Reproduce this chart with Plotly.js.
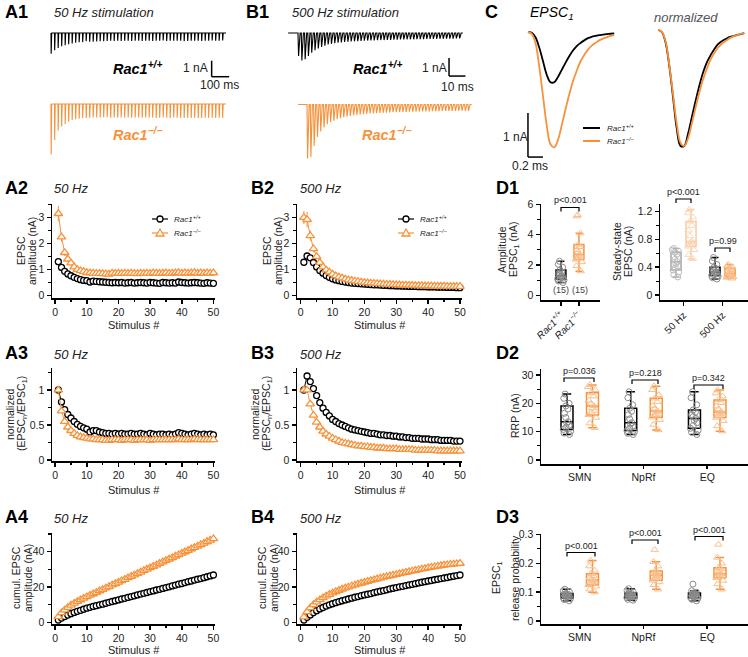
<!DOCTYPE html>
<html>
<head>
<meta charset="utf-8">
<script src="https://cdn.plot.ly/plotly-3.0.1.min.js"></script>
<style>
html,body{margin:0;padding:0;background:#ffffff;}
#chart{width:748px;height:657px;}
</style>
</head>
<body>
<div id="chart"></div>
<script>
// ================= DATA =================
const stimulus = [1,2,3,4,5,6,7,8,9,10,11,12,13,14,15,16,17,18,19,20,21,22,23,24,25,26,27,28,29,30,31,32,33,34,35,36,37,38,39,40,41,42,43,44,45,46,47,48,49,50];

// A2 (and A1 traces): 50 Hz EPSC amplitude (nA)
const amp50_wt = [1.30,1.08,0.93,0.83,0.76,0.70,0.65,0.61,0.58,0.57,
  0.52,0.55,0.54,0.53,0.52,0.51,0.50,0.49,0.50,0.49,
  0.50,0.48,0.49,0.50,0.48,0.49,0.50,0.49,0.48,0.50,
  0.49,0.48,0.47,0.50,0.49,0.48,0.49,0.48,0.52,0.50,
  0.49,0.48,0.49,0.50,0.49,0.48,0.47,0.49,0.48,0.47];
const amp50_ko = [3.15,2.25,1.65,1.40,1.25,1.10,1.00,0.95,0.92,0.88,
  0.87,0.86,0.85,0.85,0.84,0.83,0.82,0.86,0.85,0.86,
  0.85,0.86,0.85,0.86,0.85,0.84,0.86,0.85,0.86,0.85,
  0.87,0.86,0.85,0.86,0.87,0.85,0.86,0.87,0.88,0.86,
  0.87,0.86,0.87,0.88,0.86,0.87,0.86,0.87,0.86,0.87];
const amp50_ko_err = [0.30,0.18,0.13,0.11,0.10,0.09,0.08,0.08,0.07,0.07,
  0.07,0.07,0.07,0.07,0.07,0.07,0.07,0.07,0.07,0.07,
  0.07,0.07,0.07,0.07,0.07,0.07,0.07,0.07,0.07,0.07,
  0.07,0.07,0.07,0.07,0.07,0.07,0.07,0.07,0.07,0.07,
  0.07,0.07,0.07,0.07,0.07,0.07,0.07,0.07,0.07,0.07];

// B2 (and B1 traces): 500 Hz EPSC amplitude (nA)
const amp500_wt = [1.28,1.52,1.45,1.27,1.10,0.96,0.86,0.77,0.70,0.64,
  0.60,0.57,0.54,0.52,0.50,0.48,0.47,0.46,0.45,0.44,
  0.43,0.42,0.41,0.41,0.40,0.39,0.39,0.38,0.38,0.37,
  0.37,0.36,0.36,0.35,0.35,0.35,0.34,0.34,0.34,0.33,
  0.33,0.33,0.32,0.32,0.32,0.31,0.31,0.31,0.30,0.30];
const amp500_ko = [3.00,2.92,2.30,1.80,1.50,1.27,1.10,0.98,0.90,0.82,
  0.76,0.71,0.67,0.63,0.60,0.58,0.56,0.54,0.52,0.50,
  0.49,0.48,0.47,0.46,0.45,0.44,0.43,0.43,0.42,0.41,
  0.41,0.40,0.40,0.39,0.39,0.38,0.38,0.38,0.37,0.37,
  0.37,0.36,0.36,0.36,0.36,0.35,0.35,0.35,0.35,0.35];
const amp500_ko_err = [0.25,0.30,0.20,0.14,0.11,0.09,0.08,0.07,0.06,0.06,
  0.05,0.05,0.05,0.05,0.05,0.05,0.05,0.05,0.05,0.05,
  0.05,0.05,0.05,0.05,0.05,0.05,0.05,0.05,0.05,0.05,
  0.05,0.05,0.05,0.05,0.05,0.05,0.05,0.05,0.05,0.05,
  0.05,0.05,0.05,0.05,0.05,0.05,0.05,0.05,0.05,0.05];

// A3: 50 Hz normalized (EPSCn/EPSC1)
const norm50_wt = [1.00,0.83,0.72,0.65,0.60,0.55,0.51,0.48,0.46,0.44,
  0.40,0.42,0.42,0.40,0.39,0.38,0.38,0.37,0.38,0.37,
  0.38,0.37,0.37,0.38,0.37,0.37,0.38,0.37,0.36,0.38,
  0.37,0.36,0.37,0.37,0.36,0.37,0.36,0.37,0.39,0.38,
  0.37,0.36,0.37,0.38,0.37,0.36,0.37,0.36,0.37,0.36];
const norm50_ko = [1.00,0.70,0.55,0.47,0.42,0.38,0.35,0.33,0.32,0.31,
  0.30,0.30,0.29,0.29,0.29,0.28,0.28,0.29,0.29,0.29,
  0.28,0.29,0.29,0.29,0.28,0.29,0.29,0.29,0.29,0.28,
  0.29,0.29,0.29,0.29,0.29,0.29,0.29,0.29,0.30,0.29,
  0.29,0.29,0.29,0.30,0.29,0.29,0.29,0.29,0.29,0.29];

// B3: 500 Hz normalized
const norm500_wt = [1.00,1.20,1.12,1.02,0.92,0.82,0.74,0.68,0.63,0.58,
  0.55,0.52,0.50,0.48,0.46,0.44,0.43,0.42,0.41,0.40,
  0.39,0.38,0.38,0.37,0.36,0.36,0.35,0.35,0.34,0.34,
  0.33,0.33,0.32,0.32,0.31,0.31,0.31,0.30,0.30,0.30,
  0.29,0.29,0.29,0.28,0.28,0.28,0.28,0.27,0.27,0.27];
const norm500_ko = [1.00,1.00,0.80,0.64,0.54,0.47,0.41,0.37,0.34,0.31,
  0.29,0.27,0.25,0.24,0.23,0.22,0.21,0.20,0.20,0.19,
  0.19,0.18,0.18,0.17,0.17,0.17,0.16,0.16,0.16,0.16,
  0.15,0.15,0.15,0.15,0.15,0.14,0.14,0.14,0.14,0.14,
  0.14,0.14,0.13,0.13,0.13,0.13,0.13,0.13,0.13,0.13];

// A4: 50 Hz cumulative EPSC amplitude (nA)
const cum50_wt = [1.3,2.4,3.3,4.1,4.9,5.6,6.2,6.8,7.4,8.0,
  8.5,9.0,9.4,9.9,10.3,10.8,11.3,11.8,12.2,12.7,
  13.2,13.6,14.1,14.6,15.0,15.5,16.0,16.4,16.9,17.4,
  17.8,18.3,18.7,19.2,19.7,20.1,20.6,21.1,21.6,22.0,
  22.5,23.0,23.4,23.9,24.4,24.8,25.3,25.8,26.3,26.8];
const cum50_ko = [3.1,5.4,7.0,8.4,9.7,10.8,11.8,12.7,13.6,14.5,
  15.3,16.1,16.9,17.8,18.6,19.4,20.2,21.1,21.9,22.7,
  23.5,24.3,25.2,26.0,26.8,27.6,28.4,29.3,30.1,30.9,
  31.7,32.5,33.4,34.2,35.0,35.8,36.6,37.5,38.3,39.1,
  39.9,40.7,41.6,42.4,43.2,44.0,44.8,45.7,46.5,47.3];
const cum50_ko_err = [0.3,0.5,0.6,0.7,0.8,0.8,0.9,0.9,1.0,1.0,
  1.1,1.1,1.2,1.2,1.2,1.3,1.3,1.3,1.4,1.4,
  1.4,1.5,1.5,1.5,1.6,1.6,1.6,1.7,1.7,1.7,
  1.8,1.8,1.8,1.9,1.9,1.9,2.0,2.0,2.0,2.1,
  2.1,2.1,2.2,2.2,2.2,2.3,2.3,2.3,2.4,2.4];

// B4: 500 Hz cumulative EPSC amplitude (nA)
const cum500_wt = [1.3,2.8,4.2,5.5,6.6,7.6,8.4,9.2,9.9,10.5,
  11.1,11.7,12.2,12.7,13.2,13.7,14.2,14.6,15.1,15.5,
  15.9,16.3,16.8,17.2,17.6,18.0,18.4,18.9,19.3,19.7,
  20.1,20.4,20.8,21.2,21.5,21.9,22.3,22.7,23.0,23.4,
  23.7,24.1,24.4,24.8,25.1,25.4,25.8,26.1,26.5,26.8];
const cum500_ko = [3.0,5.9,8.2,10.0,11.5,12.8,13.9,14.9,15.8,16.6,
  17.4,18.1,18.8,19.4,20.0,20.6,21.1,21.7,22.2,22.7,
  23.2,23.7,24.1,24.6,25.0,25.5,25.9,26.3,26.7,27.1,
  27.5,27.9,28.3,28.7,29.1,29.4,29.8,30.2,30.5,30.9,
  31.2,31.5,31.8,32.1,32.4,32.6,32.8,33.0,33.2,33.4];
const cum500_ko_err = [0.3,0.5,0.6,0.7,0.7,0.8,0.8,0.8,0.9,0.9,
  0.9,0.9,1.0,1.0,1.0,1.0,1.0,1.1,1.1,1.1,
  1.1,1.1,1.1,1.2,1.2,1.2,1.2,1.2,1.2,1.2,
  1.3,1.3,1.3,1.3,1.3,1.3,1.3,1.3,1.4,1.4,
  1.4,1.4,1.4,1.4,1.4,1.4,1.4,1.5,1.5,1.5];

// C: EPSC1 waveforms (time in ms, current in nA)
const epscTime = [0,0.05,0.10,0.15,0.20,0.25,0.30,0.35,0.40,0.45,0.50,0.55,0.60,0.65,0.70,0.75,0.80,0.85,0.90,0.95,1.00,1.05,1.10,1.15];
const epsc_wt = [0,-0.02,-0.12,-0.35,-0.66,-0.97,-1.14,-1.14,-1.02,-0.86,-0.70,-0.55,-0.42,-0.32,-0.25,-0.19,-0.14,-0.11,-0.09,-0.07,-0.06,-0.05,-0.04,-0.03];
const epsc_ko = [0,-0.04,-0.25,-0.78,-1.45,-2.12,-2.55,-2.62,-2.45,-2.12,-1.76,-1.42,-1.12,-0.88,-0.67,-0.52,-0.40,-0.31,-0.25,-0.19,-0.15,-0.12,-0.09,-0.07];

// D1 categories and values
const genotypeLabels = ['<i>Rac1<sup>+/+</sup></i>', '<i>Rac1<sup>−/−</sup></i>'];
const nCells = ['(15)', '(15)'];
const d1_amp_wt = [0.85,0.95,1.02,1.08,1.12,1.20,1.25,1.30,1.38,1.45,1.55,1.67,1.85,2.05,2.25];
const d1_amp_ko = [1.60,1.95,2.20,2.37,2.45,2.55,2.62,2.70,2.85,3.00,3.20,3.36,4.10,5.22,5.30];
const freqLabels = ['50 Hz', '500 Hz'];
const d1_ss50_wt = [0.26,0.29,0.33,0.36,0.39,0.42,0.45,0.48,0.51,0.55,0.59,0.615,0.63,0.65,0.67];
const d1_ss50_ko = [0.52,0.58,0.65,0.70,0.72,0.74,0.76,0.77,0.85,0.93,1.00,1.06,1.12,1.18,1.23];
const d1_ss500_wt = [0.23,0.25,0.27,0.28,0.29,0.31,0.32,0.33,0.35,0.37,0.38,0.40,0.44,0.49,0.54];
const d1_ss500_ko = [0.24,0.25,0.26,0.265,0.27,0.29,0.30,0.31,0.32,0.34,0.36,0.385,0.40,0.42,0.44];
const d1_pAmp = 'p&lt;0.001';
const d1_pSS = ['p&lt;0.001', 'p=0.99'];

// D2: RRP (nA)
const methods = ['SMN', 'NpRf', 'EQ'];
const d2_smn_wt = [9.0,9.5,10.2,10.8,11.5,12.3,13.0,13.5,15.0,16.5,18.0,19.1,20.0,21.8,23.3];
const d2_smn_ko = [11.4,13.0,15.0,15.9,16.8,17.5,18.3,19.1,20.0,21.0,22.5,23.8,24.8,25.8,26.5];
const d2_nprf_wt = [9.0,9.4,10.0,10.4,11.2,12.0,12.7,13.2,14.5,16.0,17.2,18.3,19.5,22.0,24.1];
const d2_nprf_ko = [10.6,12.5,14.2,15.1,15.8,16.4,16.9,17.3,18.2,19.2,20.5,21.8,23.0,24.8,26.1];
const d2_eq_wt = [9.0,9.8,10.5,11.2,12.2,13.2,14.0,14.7,15.3,16.0,16.9,17.7,19.5,22.0,24.1];
const d2_eq_ko = [10.2,12.0,13.8,15.0,15.6,16.2,16.6,17.0,18.0,19.0,20.2,21.2,22.5,23.6,24.7];
const d2_p = ['p=0.036', 'p=0.218', 'p=0.342'];

// D3: EPSC1 release probability
const d3_smn_wt = [0.070,0.074,0.077,0.080,0.082,0.084,0.086,0.088,0.090,0.092,0.093,0.095,0.100,0.105,0.110];
const d3_smn_ko = [0.100,0.110,0.120,0.125,0.130,0.135,0.139,0.142,0.146,0.150,0.157,0.164,0.175,0.190,0.210];
const d3_nprf_wt = [0.072,0.075,0.078,0.081,0.083,0.085,0.087,0.089,0.091,0.093,0.095,0.097,0.101,0.106,0.112];
const d3_nprf_ko = [0.110,0.125,0.135,0.141,0.147,0.152,0.156,0.159,0.163,0.167,0.170,0.173,0.190,0.205,0.247];
const d3_eq_wt = [0.070,0.075,0.078,0.081,0.083,0.085,0.087,0.089,0.091,0.093,0.095,0.097,0.100,0.105,0.128];
const d3_eq_ko = [0.110,0.128,0.140,0.150,0.154,0.158,0.161,0.164,0.169,0.174,0.180,0.185,0.200,0.220,0.265];
const d3_p = ['p&lt;0.001', 'p&lt;0.001', 'p&lt;0.001'];

// ================= RENDERING =================
const W = 748, H = 657;
const fx = p => p / W, fy = p => 1 - p / H;
const FONT = 'Liberation Sans, Arial, Helvetica, sans-serif';
const BLACK = '#000000', ORANGE = '#F7923A', LORANGE = '#F9BE8C', GRAY = '#8C8C8C';

const layout = {
  width: W, height: H, margin: {l: 0, r: 0, t: 0, b: 0},
  paper_bgcolor: '#ffffff', plot_bgcolor: 'rgba(0,0,0,0)',
  showlegend: false, font: {family: FONT, color: '#222'},
  shapes: [], annotations: []
};
const traces = [];
const sfx = i => (i === 1 ? '' : String(i));

function visBase() {
  return {showline: true, linecolor: '#000', linewidth: 1.5, ticks: 'outside', ticklen: 4,
    tickwidth: 1.5, tickcolor: '#000', showgrid: false, zeroline: false,
    tickfont: {family: FONT, size: 10.5, color: '#222'}};
}
function addAxes(i, xPx, xRange, yPx, yRange, xOpts, yOpts, hidden) {
  const s = sfx(i);
  const bx = hidden ? {visible: false} : visBase();
  const by = hidden ? {visible: false} : visBase();
  layout['xaxis' + s] = Object.assign({domain: [fx(xPx[0]), fx(xPx[1])], range: xRange, anchor: 'y' + s, fixedrange: true}, bx, xOpts || {});
  layout['yaxis' + s] = Object.assign({domain: [fy(yPx[1]), fy(yPx[0])], range: yRange, anchor: 'x' + s, fixedrange: true}, by, yOpts || {});
}
function minor(d) { return {dtick: d, ticklen: 2.5, tickwidth: 1.2, tickcolor: '#000', ticks: 'outside', showgrid: false}; }

function txt(text, xpx, ypx, o) {
  o = o || {};
  const font = Object.assign({family: FONT, size: 11, color: '#222'}, o.font || {});
  const a = Object.assign({text: text, x: fx(xpx), y: fy(ypx), xref: 'paper', yref: 'paper',
    showarrow: false, xanchor: 'center', yanchor: 'middle'}, o);
  a.font = font;
  layout.annotations.push(a);
}
function pline(x0, y0, x1, y1, color, w) {
  layout.shapes.push({type: 'line', xref: 'paper', yref: 'paper', x0: fx(x0), y0: fy(y0), x1: fx(x1), y1: fy(y1), line: {color: color, width: w}});
}
function bracket(x0, x1, y, leg) {
  layout.shapes.push({type: 'path', xref: 'paper', yref: 'paper',
    path: 'M ' + fx(x0) + ',' + fy(y + leg) + ' L ' + fx(x0) + ',' + fy(y) + ' L ' + fx(x1) + ',' + fy(y) + ' L ' + fx(x1) + ',' + fy(y + leg),
    line: {color: '#000', width: 1.2}});
}

// ---------- A1 / B1 raw traces built from the amplitude data ----------
function spikes(amps, interval, rise, decay, pre, post) {
  const x = [], y = [];
  if (pre) { x.push(-pre); y.push(0); }
  amps.forEach((a, i) => { const t = i * interval; x.push(t, t + rise, t + decay); y.push(0, -a, 0); });
  x.push((amps.length - 1) * interval + decay + post); y.push(0);
  return {x, y};
}
addAxes(1, [50, 240], [-5.7, 1080], [28, 82], [-3.06, 0.31], null, null, true);
addAxes(2, [50, 240], [-5.7, 1080], [98, 160], [-3.5, 0.375], null, null, true);
addAxes(3, [285, 475], [-7.9, 107.7], [28, 82], [-2.72, 0.278], null, null, true);
addAxes(4, [285, 475], [-13.4, 102.3], [98, 160], [-3.08, 0.36], null, null, true);

let s1 = spikes(amp50_wt, 20, 1, 4, 0, 16);
traces.push({type: 'scatter', mode: 'lines', x: s1.x, y: s1.y, xaxis: 'x', yaxis: 'y', line: {color: BLACK, width: 1.1}, hoverinfo: 'skip'});
s1 = spikes(amp50_ko, 20, 1, 4, 0, 16);
traces.push({type: 'scatter', mode: 'lines', x: s1.x, y: s1.y, xaxis: 'x2', yaxis: 'y2', line: {color: ORANGE, width: 1.1}, hoverinfo: 'skip'});
s1 = spikes(amp500_wt, 2, 0.35, 1.3, 6, 1);
traces.push({type: 'scatter', mode: 'lines', x: s1.x, y: s1.y, xaxis: 'x3', yaxis: 'y3', line: {color: BLACK, width: 1.1}, hoverinfo: 'skip'});
s1 = spikes(amp500_ko, 2, 0.35, 1.3, 5.5, 1);
traces.push({type: 'scatter', mode: 'lines', x: s1.x, y: s1.y, xaxis: 'x4', yaxis: 'y4', line: {color: ORANGE, width: 1.1}, hoverinfo: 'skip'});

// scale bars (lengths in data units through the trace axes)
const barA1 = {nA: 1, ms: 100}, barB1 = {nA: 1, ms: 10}, barC = {nA: 1, ms: 0.2};
function scaleBar(ax, x0, y0, b) {
  const s = sfx(ax);
  layout.shapes.push({type: 'line', xref: 'x' + s, yref: 'y' + s, x0: x0, x1: x0, y0: y0, y1: y0 + b.nA, line: {color: '#000', width: 1.5}});
  layout.shapes.push({type: 'line', xref: 'x' + s, yref: 'y' + s, x0: x0, x1: x0 + b.ms, y0: y0, y1: y0, line: {color: '#000', width: 1.5}});
}
scaleBar(1, 918, -2.73, barA1);
scaleBar(3, 91.9, -2.39, barB1);

// ---------- C EPSC waveforms ----------
addAxes(5, [500, 620], [-0.373, 1.227], [25, 165], [-3.02, 0.159], null, null, true);
addAxes(6, [650, 748], [-0.107, 1.2], [25, 165], [-1.164, 0.043], null, null, true);
traces.push({type: 'scatter', mode: 'lines', x: epscTime, y: epsc_wt, xaxis: 'x5', yaxis: 'y5', line: {color: BLACK, width: 1.8, shape: 'spline'}, hoverinfo: 'skip'});
traces.push({type: 'scatter', mode: 'lines', x: epscTime, y: epsc_ko, xaxis: 'x5', yaxis: 'y5', line: {color: ORANGE, width: 1.8, shape: 'spline'}, hoverinfo: 'skip'});
const pkWt = Math.min.apply(null, epsc_wt), pkKo = Math.min.apply(null, epsc_ko);
traces.push({type: 'scatter', mode: 'lines', x: epscTime, y: epsc_wt.map(v => -v / pkWt), xaxis: 'x6', yaxis: 'y6', line: {color: BLACK, width: 1.8, shape: 'spline'}, hoverinfo: 'skip'});
traces.push({type: 'scatter', mode: 'lines', x: epscTime, y: epsc_ko.map(v => -v / pkKo), xaxis: 'x6', yaxis: 'y6', line: {color: ORANGE, width: 1.8, shape: 'spline'}, hoverinfo: 'skip'});
scaleBar(5, 0, -2.84, barC);

// ---------- A2..B4 time-course panels ----------
const xA = [-1, 50.5], xB = [-1.16, 50.63];
const xTick = {dtick: 10, minor: minor(5)};
addAxes(7, [52, 215], xA, [204, 298], [-0.096, 3.52], xTick, {dtick: 1, minor: minor(0.5)});
addAxes(8, [297, 462], xB, [204, 298], [-0.096, 3.52], xTick, {dtick: 1, minor: minor(0.5)});
addAxes(9, [52, 215], xA, [368, 461], [-0.014, 1.314], xTick, {dtick: 0.5, minor: minor(0.25)});
addAxes(10, [297, 462], xB, [368, 461], [-0.014, 1.314], xTick, {dtick: 0.5, minor: minor(0.25)});
addAxes(11, [52, 215], xA, [533, 624], [-0.96, 50.6], xTick, {dtick: 20, minor: minor(10)});
addAxes(12, [297, 462], xB, [533, 624], [-0.96, 50.6], xTick, {dtick: 20, minor: minor(10)});

function series(ax, y, color, symbol, err) {
  const s = sfx(ax);
  const t = {type: 'scatter', mode: 'lines+markers', x: stimulus, y: y, xaxis: 'x' + s, yaxis: 'y' + s,
    line: {color: color, width: 1},
    marker: {symbol: symbol, size: symbol === 'triangle-up' ? 7.5 : 6, color: '#ffffff', line: {color: color, width: 1.3}},
    hoverinfo: 'skip', cliponaxis: false};
  if (err) t.error_y = {type: 'data', array: err, visible: true, color: color, thickness: 1, width: 0};
  return t;
}
traces.push(series(7, amp50_wt, BLACK, 'circle'));
traces.push(series(7, amp50_ko, ORANGE, 'triangle-up', amp50_ko_err));
traces.push(series(8, amp500_wt, BLACK, 'circle'));
traces.push(series(8, amp500_ko, ORANGE, 'triangle-up', amp500_ko_err));
traces.push(series(9, norm50_wt, BLACK, 'circle'));
traces.push(series(9, norm50_ko, ORANGE, 'triangle-up'));
traces.push(series(10, norm500_wt, BLACK, 'circle'));
traces.push(series(10, norm500_ko, ORANGE, 'triangle-up'));
traces.push(series(11, cum50_wt, BLACK, 'circle'));
traces.push(series(11, cum50_ko, ORANGE, 'triangle-up', cum50_ko_err));
traces.push(series(12, cum500_wt, BLACK, 'circle'));
traces.push(series(12, cum500_ko, ORANGE, 'triangle-up', cum500_ko_err));

// ---------- D panels ----------
const catFont = {family: FONT, size: 10, color: '#222'};
addAxes(13, [541, 600], [-1.11, 2.17], [204, 300], [-0.3, 6.02],
  {tickvals: [0, 1], ticktext: genotypeLabels, tickangle: -45, tickfont: catFont},
  {dtick: 2, minor: minor(1)});
addAxes(14, [660, 748], [-1.07, 4.8], [204, 300], [-0.072, 1.311],
  {tickvals: [0.5, 3.1], ticktext: freqLabels, tickangle: -45, tickfont: catFont},
  {dtick: 0.4, minor: minor(0.2)});
addAxes(15, [541, 748], [-1.02, 7.1], [369, 464], [-1.41, 32.15],
  {tickvals: [0.5, 3, 5.5], ticktext: methods, ticklen: 3},
  {dtick: 10, minor: minor(5)});
addAxes(16, [541, 748], [-1.02, 7.1], [534, 624], [-0.0103, 0.3015],
  {tickvals: [0.5, 3, 5.5], ticktext: methods, ticklen: 3},
  {dtick: 0.1, minor: minor(0.05)});

function box(ax, pos, y, lineColor, ptColor, symbol, width) {
  const s = sfx(ax);
  return {type: 'box', xaxis: 'x' + s, yaxis: 'y' + s, x0: pos, y: y, boxpoints: 'all', jitter: 0.8, pointpos: 0,
    width: width, whiskerwidth: 0.7, quartilemethod: 'exclusive', fillcolor: 'rgba(0,0,0,0)',
    line: {color: lineColor, width: 1.5},
    marker: {symbol: symbol, size: symbol === 'circle-open' ? 6 : 6.5, color: ptColor, line: {width: 1}},
    hoverinfo: 'skip'};
}
traces.push(box(13, 0, d1_amp_wt, BLACK, GRAY, 'circle-open', 0.55));
traces.push(box(13, 1, d1_amp_ko, ORANGE, LORANGE, 'triangle-up-open', 0.55));
traces.push(box(14, 0, d1_ss50_wt, '#A8A8A8', '#BDBDBD', 'circle-open', 0.67));
traces.push(box(14, 1, d1_ss50_ko, '#F9C9A2', '#FAD6B8', 'triangle-up-open', 0.67));
traces.push(box(14, 2.6, d1_ss500_wt, BLACK, GRAY, 'circle-open', 0.67));
traces.push(box(14, 3.6, d1_ss500_ko, ORANGE, LORANGE, 'triangle-up-open', 0.67));
const d2wt = [d2_smn_wt, d2_nprf_wt, d2_eq_wt], d2ko = [d2_smn_ko, d2_nprf_ko, d2_eq_ko];
const d3wt = [d3_smn_wt, d3_nprf_wt, d3_eq_wt], d3ko = [d3_smn_ko, d3_nprf_ko, d3_eq_ko];
const grpPos = [0, 2.5, 5];
methods.forEach((m, i) => {
  traces.push(box(15, grpPos[i], d2wt[i], BLACK, GRAY, 'circle-open', 0.47));
  traces.push(box(15, grpPos[i] + 1, d2ko[i], ORANGE, LORANGE, 'triangle-up-open', 0.47));
  traces.push(box(16, grpPos[i], d3wt[i], BLACK, GRAY, 'circle-open', 0.47));
  traces.push(box(16, grpPos[i] + 1, d3ko[i], ORANGE, LORANGE, 'triangle-up-open', 0.47));
});

// ---------- texts ----------
const bold18 = {font: {size: 18, color: '#000', family: 'Liberation Sans, Arial, sans-serif'}, xanchor: 'left'};
function panel(label, x, y) { txt('<b>' + label + '</b>', x, y, bold18); }
panel('A1', 3, 12); panel('B1', 244, 12); panel('C', 483, 12);
panel('A2', 3, 188); panel('B2', 249, 188); panel('D1', 494, 188);
panel('A3', 3, 353); panel('B3', 249, 353); panel('D2', 494, 353);
panel('A4', 3, 517); panel('B4', 249, 517); panel('D3', 494, 517);

const it13 = {font: {size: 13, color: '#222'}, xanchor: 'left'};
txt('<i>50 Hz stimulation</i>', 52, 12, it13);
txt('<i>500 Hz stimulation</i>', 290, 12, it13);
txt('<i>50 Hz</i>', 52, 188, it13); txt('<i>500 Hz</i>', 298, 188, it13);
txt('<i>50 Hz</i>', 52, 354, it13); txt('<i>500 Hz</i>', 298, 354, it13);
txt('<i>50 Hz</i>', 52, 518, it13); txt('<i>500 Hz</i>', 298, 518, it13);

const wtBig = '<b><i>Rac1<sup>+/+</sup></i></b>', koBig = '<b><i>Rac1<sup>−/−</sup></i></b>';
txt(wtBig, 111, 68, {font: {size: 14.5, color: '#000'}, xanchor: 'left'});
txt(koBig, 111, 134, {font: {size: 14.5, color: ORANGE}, xanchor: 'left'});
txt(wtBig, 351, 68, {font: {size: 14.5, color: '#000'}, xanchor: 'left'});
txt(koBig, 360, 134, {font: {size: 14.5, color: ORANGE}, xanchor: 'left'});
const n12 = {font: {size: 12, color: '#222'}};
txt('1 nA', 195, 68, n12); txt('100 ms', 219, 85, n12);
txt('1 nA', 434, 68, n12); txt('10 ms', 457, 87, n12);

txt('<i>EPSC<sub>1</sub></i>', 528, 13, {font: {size: 14, color: '#000'}, xanchor: 'left'});
txt('<i>normalized</i>', 652, 17, {font: {size: 13, color: '#555'}, xanchor: 'left'});
txt('1 nA', 515, 137, n12); txt('0.2 ms', 530, 166, n12);
pline(583, 128, 600, 128, BLACK, 2); pline(583, 141, 600, 141, ORANGE, 2);
const leg9 = {font: {size: 8, color: '#222'}, xanchor: 'left'};
const wtSm = '<i>Rac1<sup>+/+</sup></i>', koSm = '<i>Rac1<sup>−/−</sup></i>';
txt(wtSm, 605, 128, leg9); txt(koSm, 605, 141, leg9);

// A2 / B2 legends
function legendRow(x0, x1, y, color, tri) {
  pline(x0, y, x1, y, color, 1.2);
  const cx = (x0 + x1) / 2;
  if (tri) {
    layout.shapes.push({type: 'path', xref: 'paper', yref: 'paper',
      path: 'M ' + fx(cx) + ',' + fy(y - 4) + ' L ' + fx(cx - 4) + ',' + fy(y + 3) + ' L ' + fx(cx + 4) + ',' + fy(y + 3) + ' Z',
      fillcolor: '#fff', line: {color: color, width: 1.3}});
  } else {
    layout.shapes.push({type: 'circle', xref: 'paper', yref: 'paper', x0: fx(cx - 3), x1: fx(cx + 3), y0: fy(y + 3), y1: fy(y - 3),
      fillcolor: '#fff', line: {color: color, width: 1.3}});
  }
}
legendRow(152, 168, 219, BLACK, false); legendRow(152, 168, 233, ORANGE, true);
txt(wtSm, 172, 219, leg9); txt(koSm, 172, 233, leg9);
legendRow(398, 414, 219, BLACK, false); legendRow(398, 414, 233, ORANGE, true);
txt(wtSm, 418, 219, leg9); txt(koSm, 418, 233, leg9);

// axis titles (one annotation per line for tight line spacing)
const yt = {font: {size: 10.5, color: '#222'}, textangle: -90};
function ytitle(l1, x1, l2, x2, y) { txt(l1, x1, y, yt); if (l2) txt(l2, x2, y, yt); }
ytitle('EPSC', 21, 'amplitude (nA)', 32, 251);
ytitle('EPSC', 267, 'amplitude (nA)', 278, 251);
ytitle('normalized', 10, '(EPSC<sub>n</sub>/EPSC<sub>1</sub>)', 22, 414);
ytitle('normalized', 255, '(EPSC<sub>n</sub>/EPSC<sub>1</sub>)', 267, 414);
ytitle('cumul. EPSC', 16, 'amplitude (nA)', 28, 578);
ytitle('cumul. EPSC', 262, 'amplitude (nA)', 274, 578);
ytitle('Amplitude', 502, 'EPSC<sub>1</sub> (nA)', 514, 250);
ytitle('Steady-state', 617, 'EPSC (nA)', 628, 252);
ytitle('RRP (nA)', 515, null, 0, 416);
ytitle('EPSC<sub>1</sub>', 497, 'release probability', 515, 578);
const xt = {font: {size: 11, color: '#222'}};
[325, 490, 650].forEach(y => { txt('Stimulus #', 134, y, xt); txt('Stimulus #', 380, y, xt); });

// D annotations
const p9 = {font: {size: 9, color: '#222'}};
txt(nCells[0], 561, 290, {font: {size: 9, color: '#444'}});
txt(nCells[1], 580, 290, {font: {size: 9, color: '#444'}});
bracket(561, 579, 207.5, 4); txt(d1_pAmp, 570, 200, p9);
bracket(676, 691, 199, 4); txt(d1_pSS[0], 683.5, 192, p9);
bracket(715, 730, 248, 4); txt(d1_pSS[1], 722.5, 241, p9);
bracket(564, 594, 378, 4); txt(d2_p[0], 579, 371, p9);
bracket(632, 658, 380, 4); txt(d2_p[1], 645, 373, p9);
bracket(694, 723, 385, 4); txt(d2_p[2], 708.5, 378, p9);
bracket(567, 595, 552.5, 4); txt(d3_p[0], 581, 545.5, p9);
bracket(632, 658, 540, 4); txt(d3_p[1], 645, 533, p9);
bracket(695, 723, 536.5, 4); txt(d3_p[2], 709, 529.5, p9);

Plotly.newPlot('chart', traces, layout, {staticPlot: true, displayModeBar: false});
</script>
</body>
</html>
